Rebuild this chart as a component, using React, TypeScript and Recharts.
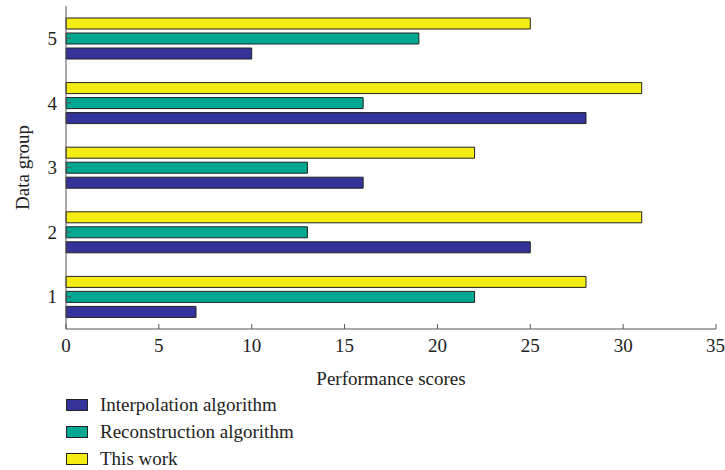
import React from 'react';
import { BarChart, Bar, XAxis, YAxis } from 'recharts';

// Data
const groups = ['1', '2', '3', '4', '5'];
const interpolation = [7, 25, 16, 28, 10];
const reconstruction = [22, 13, 13, 16, 19];
const thisWork = [28, 31, 22, 31, 25];
const xTicks = [0, 5, 10, 15, 20, 25, 30, 35];

const seriesNames = ['Interpolation algorithm', 'Reconstruction algorithm', 'This work'];
const seriesColors = ['#333399', '#00a891', '#f5ec14'];

const data = groups.map((g, i) => ({
  group: g,
  interp: interpolation[i],
  recon: reconstruction[i],
  work: thisWork[i],
}));

const FONT = '"Liberation Serif", "DejaVu Serif", serif';
const axisColor = '#555';
const tickStyle = { fontFamily: FONT, fontSize: 19, fill: '#222' };

const App: React.FC = () => {
  return (
    <div style={{ position: 'absolute', left: 0, top: 0, width: 725, height: 470, background: '#fff' }}>
      <BarChart
        width={725}
        height={470}
        data={data}
        layout="vertical"
        margin={{ top: 6, right: 9, bottom: 91, left: 0 }}
        barSize={11}
        barGap={4}
      >
        <XAxis
          type="number"
          domain={[0, 35]}
          ticks={xTicks}
          height={50}
          tickSize={-5}
          tickMargin={15}
          stroke={axisColor}
          tick={tickStyle}
          label={{ value: 'Performance scores', position: 'insideBottom', offset: -6, style: { ...tickStyle } }}
        />
        <XAxis
          xAxisId="top"
          orientation="top"
          type="number"
          domain={[0, 35]}
          ticks={xTicks}
          height={0}
          tickSize={-5}
          tick={false}
          stroke={axisColor}
        />
        <YAxis
          type="category"
          dataKey="group"
          reversed
          width={66}
          tickSize={-5}
          tickMargin={14}
          stroke={axisColor}
          tick={tickStyle}
          label={{ value: 'Data group', angle: -90, position: 'insideLeft', offset: 22, style: { ...tickStyle, textAnchor: 'middle' } }}
        />
        <YAxis
          yAxisId="right"
          orientation="right"
          type="category"
          dataKey="group"
          reversed
          width={0}
          tickSize={-5}
          tick={false}
          stroke={axisColor}
        />
        <Bar dataKey="work" name={seriesNames[2]} fill={seriesColors[2]} stroke="#222" strokeWidth={1} isAnimationActive={false} />
        <Bar dataKey="recon" name={seriesNames[1]} fill={seriesColors[1]} stroke="#222" strokeWidth={1} isAnimationActive={false} />
        <Bar dataKey="interp" name={seriesNames[0]} fill={seriesColors[0]} stroke="#222" strokeWidth={1} isAnimationActive={false} />
      </BarChart>
      <div style={{ position: 'absolute', left: 66, top: 391 }}>
        {seriesNames.map((name, i) => (
          <div key={name} style={{ display: 'flex', alignItems: 'center', height: 27, fontFamily: FONT, fontSize: 19, color: '#222' }}>
            <span style={{ display: 'inline-block', width: 20, height: 10, background: seriesColors[i], border: '1px solid #222', marginRight: 12 }} />
            {name}
          </div>
        ))}
      </div>
    </div>
  );
};

export default App;
